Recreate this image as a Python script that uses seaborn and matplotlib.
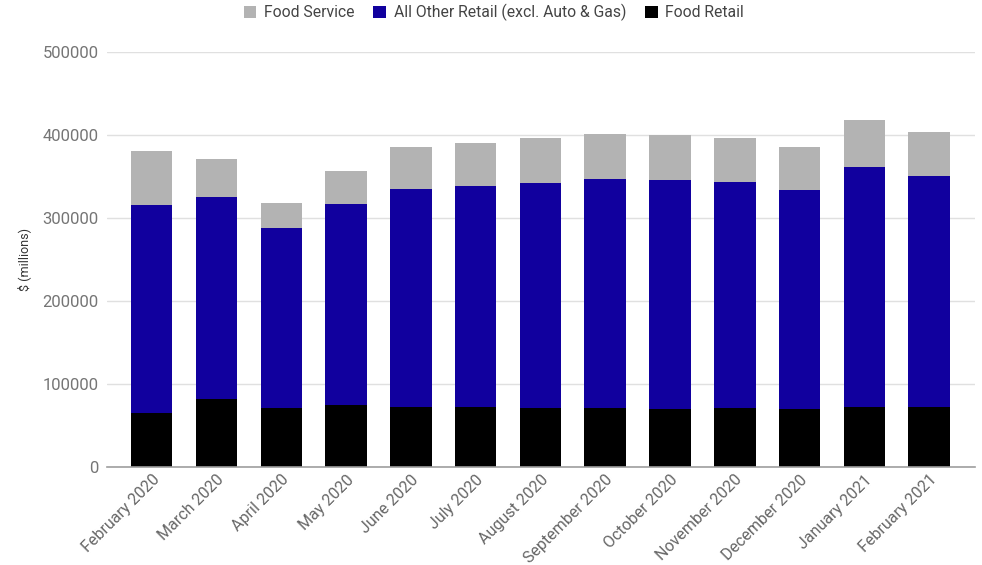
import matplotlib
matplotlib.use("Agg")
import matplotlib.pyplot as plt
from matplotlib.patches import Patch
import seaborn as sns
import pandas as pd
import numpy as np

months = ["February 2020", "March 2020", "April 2020", "May 2020", "June 2020",
          "July 2020", "August 2020", "September 2020", "October 2020",
          "November 2020", "December 2020", "January 2021", "February 2021"]
food_retail = [64200, 81500, 71100, 73900, 72300, 72300, 71100, 71100, 69900, 71100, 69900, 72300, 72300]
other_retail = [250800, 243900, 216900, 243100, 262400, 266000, 270800, 275600, 275600, 272000, 263900, 289300, 277700]
food_service = [65500, 45400, 30100, 39800, 50300, 51400, 54700, 54700, 54700, 53500, 51200, 56300, 53800]

series_names = ["Food Service", "All Other Retail (excl. Auto & Gas)", "Food Retail"]
colors = {"Food Service": "#b3b3b3", "All Other Retail (excl. Auto & Gas)": "#11009e", "Food Retail": "#000000"}

df = pd.DataFrame({"month": months, "Food Retail": food_retail,
                   "All Other Retail (excl. Auto & Gas)": other_retail,
                   "Food Service": food_service})
df["cum_other"] = df["Food Retail"] + df["All Other Retail (excl. Auto & Gas)"]
df["cum_total"] = df["cum_other"] + df["Food Service"]

sns.set_theme(style="white")
plt.rcParams["font.family"] = ["Roboto", "DejaVu Sans"]

fig = plt.figure(figsize=(9.82, 5.65), dpi=100)
ax = fig.add_axes([0.109, 0.1743, 0.884, 0.7337])

common = dict(width=0.64, saturation=1, ax=ax, linewidth=0, edgecolor="none")
sns.barplot(data=df, x="month", y="cum_total", color=colors["Food Service"], zorder=2, **common)
sns.barplot(data=df, x="month", y="cum_other", color=colors["All Other Retail (excl. Auto & Gas)"],
            zorder=3, **common)
sns.barplot(data=df, x="month", y="Food Retail", color=colors["Food Retail"], zorder=4, **common)

ax.set_ylim(0, 500000)
ax.set_xlim(-0.69, 12.71)
ax.set_yticks([0, 100000, 200000, 300000, 400000, 500000])
ax.set_yticklabels(["0", "100000", "200000", "300000", "400000", "500000"])
ax.yaxis.grid(True, color="#e0e0e0", linewidth=1, zorder=0)
ax.set_axisbelow(True)
for s in ["top", "right", "left"]:
    ax.spines[s].set_visible(False)
ax.spines["bottom"].set_color("#9e9e9e")
ax.spines["bottom"].set_linewidth(1.2)
ax.spines["bottom"].set_zorder(5)

ax.tick_params(axis="y", colors="#757575", labelsize=12, length=0, pad=6)
ax.tick_params(axis="x", colors="#666666", labelsize=11.5, length=0, pad=4)
plt.setp(ax.get_xticklabels(), rotation=45, ha="right", rotation_mode="anchor")
ax.set_xlabel("")
ax.set_ylabel("$ (millions)", fontsize=9, color="#333333", labelpad=8)

handles = [Patch(facecolor=colors[n], edgecolor="none", label=n) for n in series_names]
fig.legend(handles=handles, loc="upper center", bbox_to_anchor=(0.503, 1.018), ncol=3, frameon=False,
           fontsize=11.3, handlelength=0.8, handleheight=0.8, handletextpad=0.5, columnspacing=1.2,
           labelcolor="#444444")

fig.savefig("out.png", dpi=100)
